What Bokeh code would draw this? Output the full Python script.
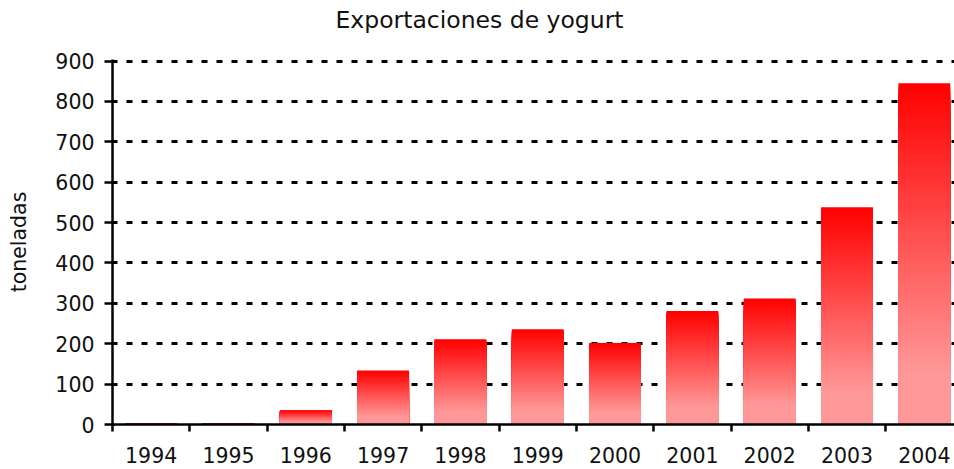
from bokeh.plotting import figure
from bokeh.models import Range1d, FixedTicker, ColumnDataSource, LinearAxis
from bokeh.embed import file_html
from bokeh.resources import INLINE

title_text = "Exportaciones de yogurt"
years = ["1994", "1995", "1996", "1997", "1998", "1999", "2000", "2001", "2002", "2003", "2004"]
toneladas = [2, 2, 35, 134, 211, 236, 202, 281, 312, 538, 845]
y_ticks = [0, 100, 200, 300, 400, 500, 600, 700, 800, 900]

FONT = "DejaVu Sans"
top_rgb = (255, 0, 0)
bot_rgb = (255, 152, 152)
N = 100

p = figure(width=954, height=469, output_backend="svg", toolbar_location=None,
           title=title_text,
           x_range=Range1d(-0.5, 10.39), y_range=Range1d(0, 904),
           min_border_left=112, min_border_right=0, min_border_top=59, min_border_bottom=45)
p.outline_line_color = None
p.background_fill_color = "white"

# gradient bars: overlapping stacks from each data value, tallest drawn first
xs, bottoms, tops, colors = [], [], [], []
for k in range(N - 1, -1, -1):
    frac_from_top = 1 - (k + 0.5) / N
    f = min(frac_from_top / 0.85, 1.0)
    r = round(top_rgb[0] + (bot_rgb[0] - top_rgb[0]) * f)
    g = round(top_rgb[1] + (bot_rgb[1] - top_rgb[1]) * f)
    bl = round(top_rgb[2] + (bot_rgb[2] - top_rgb[2]) * f)
    col = "#%02x%02x%02x" % (r, g, bl)
    for i, v in enumerate(toneladas):
        xs.append(i)
        bottoms.append(0)
        tops.append(v * (k + 1) / N)
        colors.append(col)
src = ColumnDataSource(dict(x=xs, bottom=bottoms, top=tops, color=colors))
p.vbar(x="x", bottom="bottom", top="top", width=0.67, source=src,
       fill_color="color", line_color=None)

# invisible spacer axis above the frame (keeps the title clear of the frame)
spacer = LinearAxis(ticker=FixedTicker(ticks=[0], minor_ticks=[]),
                    axis_line_color=None,
                    major_tick_line_color="white", major_tick_line_width=1,
                    minor_tick_line_color=None,
                    major_tick_out=26, major_tick_in=0,
                    minor_tick_out=0, minor_tick_in=0,
                    major_label_standoff=0,
                    major_label_overrides={0: ""})
p.add_layout(spacer, "above")

p.title.align = "left"
p.title.offset = 223
p.title.standoff = 0
p.title.text_font = FONT
p.title.text_font_size = "23.5px"
p.title.text_font_style = "normal"
p.title.text_color = "#111111"

# x axis (bottom)
bottom_axis = p.below[0]
bottom_axis.ticker = FixedTicker(ticks=list(range(len(years))),
                                 minor_ticks=[i - 0.5 for i in range(len(years) + 1)])
bottom_axis.major_label_overrides = {i: y for i, y in enumerate(years)}
bottom_axis.major_tick_out = 0
bottom_axis.major_tick_in = 0
bottom_axis.minor_tick_out = 7
bottom_axis.minor_tick_in = 0
bottom_axis.minor_tick_line_width = 2.5
bottom_axis.minor_tick_line_color = "black"
bottom_axis.major_label_standoff = 15

# y axis
left_axis = p.left[0]
left_axis.ticker = FixedTicker(ticks=y_ticks, minor_ticks=[])
left_axis.axis_label = "toneladas"
left_axis.axis_label_text_font = FONT
left_axis.axis_label_text_font_size = "20.5px"
left_axis.axis_label_text_font_style = "normal"
left_axis.axis_label_text_color = "#111111"
left_axis.axis_label_standoff = 21
left_axis.major_tick_out = 8
left_axis.major_tick_in = 2
left_axis.major_label_standoff = 10
left_axis.minor_tick_line_color = None

for ax in (bottom_axis, left_axis):
    ax.axis_line_color = "black"
    ax.axis_line_width = 2.5
    ax.major_tick_line_color = "black"
    ax.major_tick_line_width = 2.5
    ax.major_label_text_font = FONT
    ax.major_label_text_font_size = "20.5px"
    ax.major_label_text_color = "#111111"

p.xgrid.grid_line_color = None
p.ygrid.grid_line_color = "black"
p.ygrid.grid_line_width = 3
p.ygrid.grid_line_dash = "6 9"
p.ygrid.grid_line_dash_offset = 1

open("out.html", "w").write(file_html(p, INLINE))
